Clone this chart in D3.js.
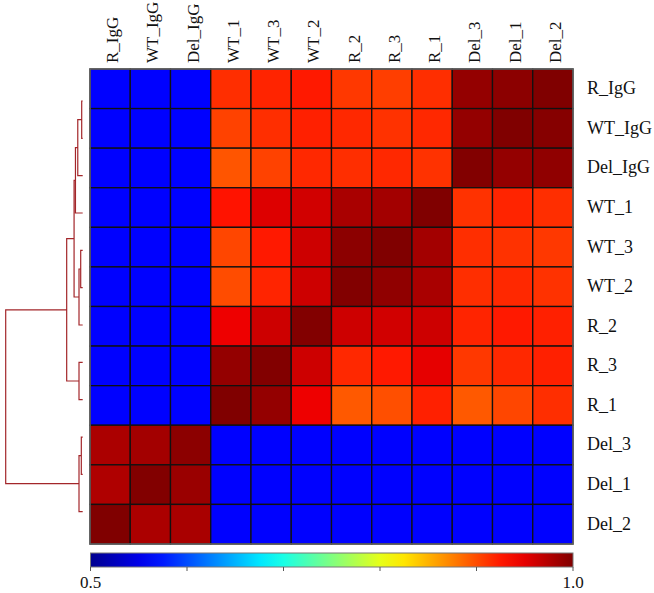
<!DOCTYPE html>
<html>
<head>
<meta charset="utf-8">
<script src="https://cdn.jsdelivr.net/npm/d3@7"></script>
<style>
  body { margin: 0; background: #fff; }
  text { font-family: 'Liberation Serif', 'Times New Roman', serif; fill: #111; }
</style>
</head>
<body>
<svg width="654" height="593"></svg>
<script>
// sample names, same order for rows and columns
const names = ['R_IgG', 'WT_IgG', 'Del_IgG', 'WT_1', 'WT_3', 'WT_2', 'R_2', 'R_3', 'R_1', 'Del_3', 'Del_1', 'Del_2']

// correlation values, one array per row
const B = 0.563
const rR_IgG   = [B, B, B, 0.915, 0.920, 0.925, 0.910, 0.907, 0.915, 0.990, 0.994, 1.000]
const rWT_IgG  = [B, B, B, 0.905, 0.915, 0.922, 0.918, 0.913, 0.918, 0.990, 1.000, 0.997]
const rDel_IgG = [B, B, B, 0.896, 0.905, 0.918, 0.915, 0.918, 0.913, 0.999, 0.990, 0.992]
const rWT_1    = [B, B, B, 0.928, 0.954, 0.960, 0.980, 0.983, 1.000, 0.913, 0.920, 0.915]
const rWT_3    = [B, B, B, 0.903, 0.925, 0.962, 0.994, 1.000, 0.983, 0.915, 0.913, 0.910]
const rWT_2    = [B, B, B, 0.900, 0.920, 0.962, 0.999, 0.992, 0.980, 0.915, 0.918, 0.913]
const rR_2     = [B, B, B, 0.946, 0.962, 0.999, 0.962, 0.960, 0.962, 0.920, 0.925, 0.922]
const rR_3     = [B, B, B, 0.990, 0.999, 0.962, 0.918, 0.925, 0.950, 0.910, 0.918, 0.922]
const rR_1     = [B, B, B, 1.000, 0.990, 0.946, 0.894, 0.899, 0.922, 0.894, 0.903, 0.915]
const rDel_3   = [0.979, 0.983, 0.994, B, B, B, B, B, B, B, B, B]
const rDel_1   = [0.977, 0.999, 0.987, B, B, B, B, B, B, B, B, B]
const rDel_2   = [1.000, 0.979, 0.980, B, B, B, B, B, B, B, B, B]
const matrix = [rR_IgG, rWT_IgG, rDel_IgG, rWT_1, rWT_3, rWT_2, rR_2, rR_3, rR_1, rDel_3, rDel_1, rDel_2]

// row dendrogram, hclust style: negative = leaf (1-based), positive = earlier merge
const merges = [
  [-1, -2, 0.0065],
  [1, -3, 0.032],
  [2, -4, 0.047],
  [-5, -6, 0.013],
  [4, -7, 0.024],
  [3, 5, 0.056],
  [-8, -9, 0.024],
  [6, 7, 0.104],
  [-10, -11, 0.009],
  [9, -12, 0.024],
  [8, 10, 0.5]
]

const barTicks = [0.5, 0.6, 0.7, 0.8, 0.9, 1.0]
const barLabels = [0.5, 1.0]

const svg = d3.select('svg')
const gLeft = 90, gRight = 573, gTop = 69, gBottom = 544

const x = d3.scaleBand().domain(names).range([gLeft, gRight])
const y = d3.scaleBand().domain(names).range([gTop, gBottom])

// jet colour map over 0.5 .. 1.0
const jet = d3.scaleLinear()
  .domain([0.5, 0.5625, 0.6875, 0.8125, 0.9375, 1.0])
  .range(['#00008f', '#0000ff', '#00ffff', '#ffff00', '#ff0000', '#800000'])
  .clamp(true)

// cells
const cells = []
matrix.forEach(function (row, i) {
  row.forEach(function (v, j) { cells.push({ r: names[i], c: names[j], v: v }) })
})
svg.append('g').selectAll('rect')
  .data(cells)
  .enter().append('rect')
    .attr('x', d => x(d.c))
    .attr('y', d => y(d.r))
    .attr('width', x.bandwidth())
    .attr('height', y.bandwidth())
    .attr('fill', d => jet(d.v))
    .attr('stroke', '#111')
    .attr('stroke-width', 1.3)

svg.append('rect')
  .attr('x', gLeft).attr('y', gTop)
  .attr('width', gRight - gLeft).attr('height', gBottom - gTop)
  .attr('fill', 'none').attr('stroke', '#666').attr('stroke-width', 1.5)

// column labels
svg.append('g').selectAll('text')
  .data(names)
  .enter().append('text')
    .attr('transform', d => 'translate(' + (x(d) + x.bandwidth() / 2 + 2) + ',' + (gTop - 6) + ') rotate(-90)')
    .attr('dy', '0.35em')
    .style('font-size', '17px')
    .text(d => d)

// row labels
svg.append('g').selectAll('text')
  .data(names)
  .enter().append('text')
    .attr('x', 587)
    .attr('y', d => y(d) + y.bandwidth() / 2)
    .attr('dy', '0.3em')
    .style('font-size', '18px')
    .text(d => d)

// dendrogram
const leafY = d3.scalePoint().domain(names).range([101, 511.7])
const hx = d3.scaleLinear().domain([0, 0.5]).range([82.7, 5.7])
const nodes = []
function pos (k) {
  if (k < 0) return { x: hx(0), y: leafY(names[-k - 1]) }
  return nodes[k - 1]
}
const dpath = d3.path()
merges.forEach(function (m) {
  const a = pos(m[0]), b = pos(m[1])
  const nx = hx(m[2])
  dpath.moveTo(a.x, a.y); dpath.lineTo(nx, a.y)
  dpath.lineTo(nx, b.y); dpath.lineTo(b.x, b.y)
  nodes.push({ x: nx, y: (a.y + b.y) / 2 })
})
svg.append('path')
  .attr('d', dpath.toString())
  .attr('fill', 'none')
  .attr('stroke', '#a3262a')
  .attr('stroke-width', 1.2)

// colour bar
const bx = d3.scaleLinear().domain([0.5, 1.0]).range([gLeft + 0.5, gRight])
const grad = svg.append('defs').append('linearGradient')
  .attr('id', 'jet').attr('x1', '0%').attr('x2', '100%')
grad.selectAll('stop')
  .data(d3.range(0, 1.0001, 0.05))
  .enter().append('stop')
    .attr('offset', d => (d * 100) + '%')
    .attr('stop-color', d => jet(0.5 + d * 0.5))

svg.append('rect')
  .attr('x', bx(0.5)).attr('y', 553)
  .attr('width', bx(1.0) - bx(0.5)).attr('height', 14)
  .attr('fill', 'url(#jet)')
  .attr('stroke', '#777').attr('stroke-width', 1)

svg.append('g').selectAll('line')
  .data(barTicks)
  .enter().append('line')
    .attr('x1', d => bx(d)).attr('x2', d => bx(d))
    .attr('y1', 567).attr('y2', 571)
    .attr('stroke', '#555').attr('stroke-width', 1)

svg.append('g').selectAll('text')
  .data(barLabels)
  .enter().append('text')
    .attr('x', d => bx(d))
    .attr('y', 588)
    .attr('text-anchor', 'middle')
    .style('font-size', '17px')
    .text(d => d3.format('.1f')(d))
</script>
</body>
</html>
